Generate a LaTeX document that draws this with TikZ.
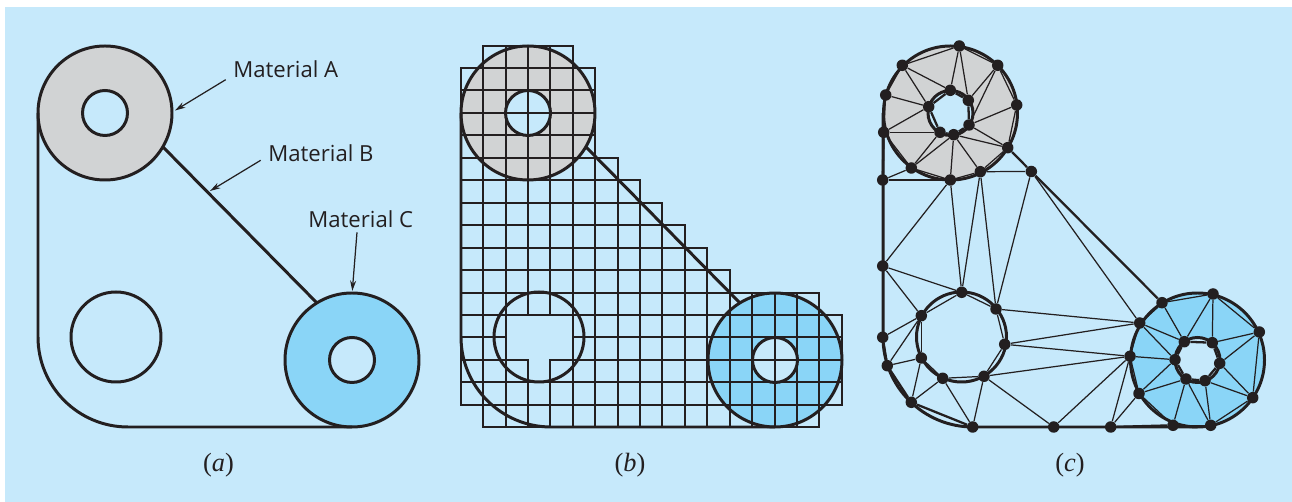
\documentclass[tikz,border=0pt]{standalone}
\usepackage{fontspec}
\setmainfont{Liberation Serif}
\newfontfamily\labelfont{Open Sans}
\usetikzlibrary{arrows.meta}
\definecolor{panelblue}{HTML}{C6E9FB}
\definecolor{matgray}{HTML}{D1D3D4}
\definecolor{matblue}{HTML}{8AD5F7}
\definecolor{inkline}{HTML}{231F20}
\tikzset{
  outline/.style={draw=inkline,line width=1.7pt},
  gridcell/.style={draw=inkline,line width=0.85pt},
  meshedge/.style={draw=inkline,line width=0.7pt},
  meshheavy/.style={draw=inkline,line width=1.3pt},
  meshdot/.style={circle,fill=inkline,inner sep=0pt,minimum size=0.23cm},
  matlabel/.style={anchor=base west,inner sep=0pt,text=inkline,font=\labelfont\fontsize{12.6}{15}\selectfont},
  caption/.style={anchor=base,text=inkline,font=\fontsize{15}{17}\selectfont},
  pointer/.style={draw=inkline,line width=0.7pt,-{Stealth[length=0.21cm,width=0.12cm]}}
}
\begin{document}
\begin{tikzpicture}[x=0.02cm,y=-0.02cm]
  \useasboundingbox (0,0) rectangle (1292,502);
  \fill[panelblue] (5,7) rectangle (1292,502);
  % part a
  \fill[matgray,even odd rule] (105,113) circle[radius=67] (105,113) circle[radius=22.5];
  \fill[matblue,even odd rule] (352,360) circle[radius=67] (352,360) circle[radius=22.5];
  \draw[outline] (38,113) -- (38,337) arc[start angle=180,end angle=90,radius=90] -- (352,427);
  \draw[outline] (163,147) -- (317,303);
  \foreach \cx/\cy/\rad in {105/113/67,105/113/22.5,116/337/45,352/360/67,352/360/22.5}
    \draw[outline] (\cx,\cy) circle[radius=\rad];
  \node[matlabel] (labelA) at (233,78) {Material A};
  \node[matlabel] (labelB) at (268,162) {Material B};
  \node[matlabel] (labelC) at (308,227.5) {Material C};
  \coordinate (tipA) at (175,110.5);
  \coordinate (tipB) at (210,191);
  \coordinate (tipC) at (352.3,291);
  \draw[pointer] (225.7,79.7) -- (tipA);
  \draw[pointer] (260.7,160.3) -- (tipB);
  \draw[pointer] (357,232.3) -- (tipC);
  \node[caption] (capA) at (218.5,472) {(\textit{a})};
  % part b
  \fill[matgray,even odd rule] (528,113) circle[radius=67] (528,113) circle[radius=22.5];
  \fill[matblue,even odd rule] (775,360) circle[radius=67] (775,360) circle[radius=22.5];
  \foreach \row/\first/\last in {0/1/4,1/0/5,2/0/5,3/0/5,4/0/5,5/0/6,6/0/7,7/0/8,8/0/9,9/0/10,10/0/11,
      11/0/15,12/0/16,13/0/16,14/0/16,15/0/16,16/1/15}
    \foreach \col in {\first,...,\last} {
      \pgfmathtruncatemacro{\skipcell}{(\row==12 || \row==13) && \col>=2 && \col<=4 ? 1 : (\row==14 && \col==3 ? 1 : 0)}
      \ifnum\skipcell=0
        \draw[gridcell] ({round(460.8+22.41*\col)},{round(45.5+22.46*\row)}) rectangle
          ({round(460.8+22.41*(\col+1))},{round(45.5+22.46*(\row+1))});
      \fi
    }
  \draw[outline] (461,113) -- (461,337) arc[start angle=180,end angle=90,radius=90] -- (775,427);
  \draw[outline] (586,147) -- (740,303);
  \foreach \cx/\cy/\rad in {528/113/67,528/113/22.5,539/337/45,775/360/67,775/360/22.5}
    \draw[outline] (\cx,\cy) circle[radius=\rad];
  \node[caption] (capB) at (630,472) {(\textit{b})};
  % part c
  \fill[matgray,even odd rule] (950.5,113) circle[radius=67] (950.5,113) circle[radius=22.5];
  \fill[matblue,even odd rule] (1197.5,360) circle[radius=67] (1197.5,360) circle[radius=22.5];
  \draw[outline] (883,113) -- (883,337) arc[start angle=180,end angle=90,radius=90] -- (1197.5,427);
  \foreach \cx/\cy/\rad in {950.5/113/67,950.5/113/22.5,961.5/337/45,1197.5/360/67,1197.5/360/22.5}
    \draw[outline] (\cx,\cy) circle[radius=\rad];
  \foreach \nd/\px/\py in {t1/959.3/46,t2/997.7/65.3,t3/1016.7/105,t4/1007.7/147.7,t5/980.3/171.7,
      t6/950.3/180,t7/911.3/168,t8/883.7/132.3,t9/885.7/95,t10/902.3/65.3,
      i1/950.3/90.3,i2/968.3/100.3,i3/969/125,i4/953.7/134.7,i5/940/132.3,i6/928.7/106.7,
      a1/882.7/180,a2/1031.3/171.5,
      b1/882.7/266,b2/882.7/337.3,b3/887.3/365.7,b4/911.3/402.3,b5/972.7/427,b6/1053.7/427,b7/1110.7/427,
      c1/961.7/292.3,c2/996/309,c3/1004.7/344.3,c4/984/376.3,c5/942.7/378.3,c6/921.3/358,c7/921.3/315.7,
      r0/1162/302.7,r1/1139.7/323,r2/1130/356.3,r3/1139/393.5,r4/1213/294,r5/1259.3/332,r6/1252.7/397.7,
      r7/1210.7/425.3,r8/1173/425.3,
      j1/1184.3/341.7,j2/1212.3/342.7,j3/1219.7/363.3,j4/1205/380.7,j5/1186/379,j6/1175/359.7}
    \node[meshdot] (\nd) at (\px,\py) {};
  \foreach \from/\to in {t1/t2,t2/t3,t3/t4,t4/t5,t5/t6,t6/t7,t7/t8,t8/t9,t9/t10,t10/t1,
      t1/i1,t1/i2,t2/i2,t2/i3,t3/i3,t4/i3,t4/i4,t5/i4,t6/i4,t7/i4,t7/i5,t8/i5,t8/i6,t9/i6,t10/i6,t10/i1,
      a1/t7,a1/t6,t5/a2,
      b1/t6,t6/c1,t5/c1,t5/c2,a2/c2,a2/r1,b1/c1,b1/c7,c7/c1,c1/c2,c2/c3,c3/c4,c4/c5,c5/c6,c6/c7,
      c2/r1,c3/r1,c3/r2,c4/r2,c4/b6,c4/b5,c5/b5,c5/b4,c6/b4,c6/b3,c7/b3,c7/b2,b6/r2,b7/r2,b7/r3,
      r0/r4,r0/j1,r1/j1,r1/j6,r2/j6,r3/j6,r3/j5,r3/r8,r8/j5,r7/j5,r7/j4,r6/j4,r6/j3,r6/r7,r5/r6,
      r5/j3,r5/j2,r4/r5,r4/j2,r4/j1,r1/r2,r2/r3,r8/r7}
    \draw[meshedge] (\from) -- (\to);
  \foreach \from/\to in {t8/a1,a1/b1,b1/b2,b2/b3,b3/b4,b4/b5,b5/b6,b6/b7,b7/r8,t4/a2,a2/r0,r0/r1,
      i1/i2,i2/i3,i3/i4,i4/i5,i5/i6,i6/i1,j1/j2,j2/j3,j3/j4,j4/j5,j5/j6,j6/j1}
    \draw[meshheavy] (\from) -- (\to);
  \node[caption] (capC) at (1070,472) {(\textit{c})};
\end{tikzpicture}
\end{document}
